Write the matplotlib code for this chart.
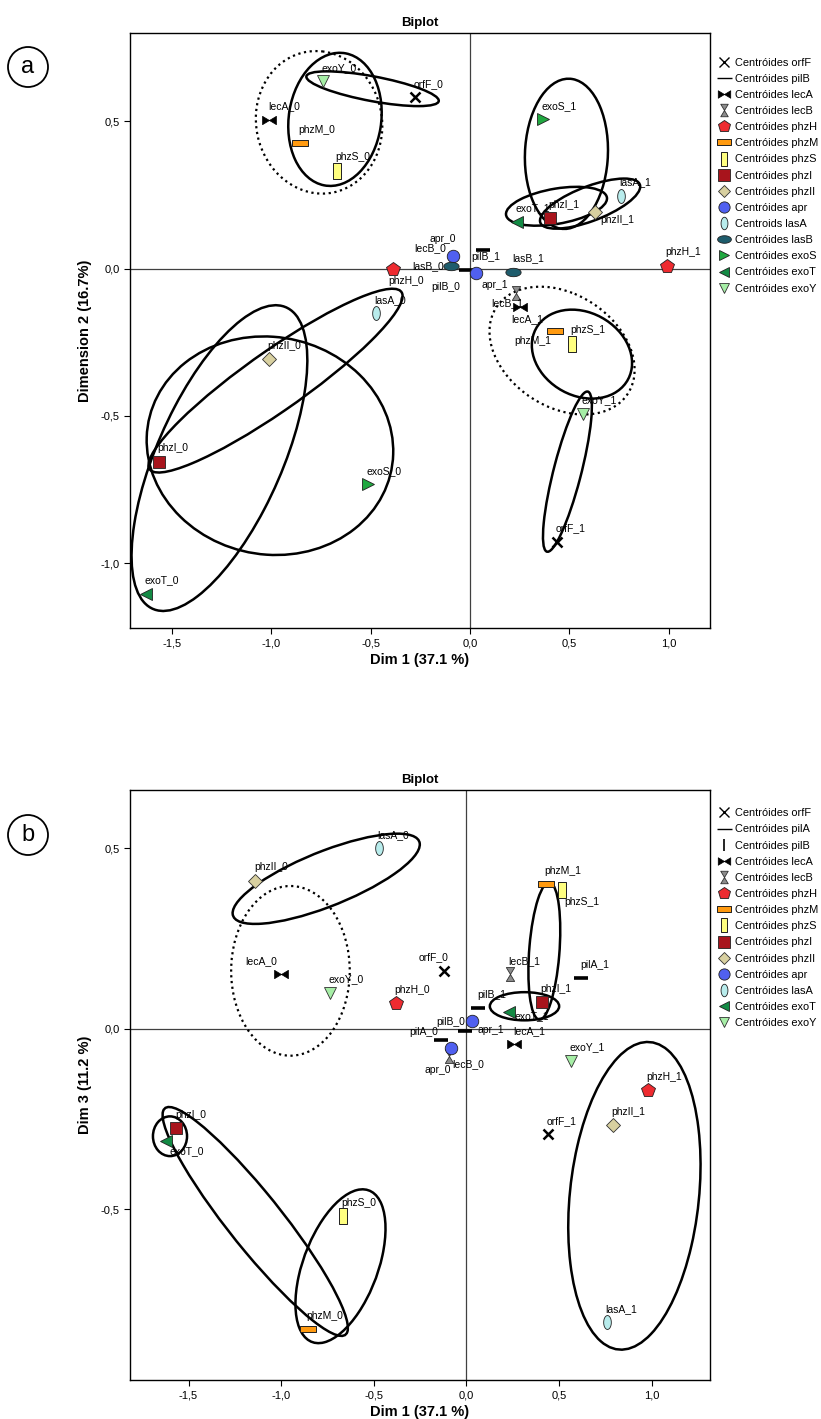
import numpy as np
import matplotlib.pyplot as plt
from matplotlib.path import Path
from matplotlib.patches import Ellipse
from matplotlib.lines import Line2D
from matplotlib.ticker import FuncFormatter

plt.rcParams['font.family'] = ['Liberation Sans', 'DejaVu Sans']

# ---- panel a : Dim 1 x Dim 2 ----
a_names = ['orfF_0', 'orfF_1', 'pilB_0', 'pilB_1', 'lecA_0', 'lecA_1', 'lecB_0', 'lecB_1',
           'phzH_0', 'phzH_1', 'phzM_0', 'phzM_1', 'phzS_0', 'phzS_1', 'phzI_0', 'phzI_1',
           'phzII_0', 'phzII_1', 'apr_0', 'apr_1', 'lasA_0', 'lasA_1', 'lasB_0', 'lasB_1',
           'exoS_0', 'exoS_1', 'exoT_0', 'exoT_1', 'exoY_0', 'exoY_1']
a_dim1 = [-0.277, 0.438, -0.020, 0.064, -1.010, 0.252, -0.090, 0.231,
          -0.389, 0.990, -0.855, 0.428, -0.669, 0.513, -1.566, 0.402,
          -1.010, 0.629, -0.084, 0.029, -0.473, 0.758, -0.097, 0.218,
          -0.512, 0.366, -1.630, 0.235, -0.738, 0.568]
a_dim2 = [0.582, -0.927, -0.004, 0.065, 0.505, -0.129, 0.024, -0.081,
          -0.001, 0.010, 0.427, -0.210, 0.333, -0.255, -0.655, 0.171,
          -0.307, 0.193, 0.043, -0.014, -0.152, 0.247, 0.009, -0.010,
          -0.731, 0.507, -1.104, 0.160, 0.637, -0.492]
a_legend = ['orfF', 'pilB', 'lecA', 'lecB', 'phzH', 'phzM', 'phzS', 'phzI', 'phzII',
            'apr', 'lasA', 'lasB', 'exoS', 'exoT', 'exoY']

# confidence ellipses: centre, spread along each dim, correlation, dotted?
a_ell_cx = [-0.759, -0.679, -0.490, 0.485, 0.435, 0.604, 0.463, 0.563, 0.490, -1.006, -1.260, -0.978]
a_ell_cy = [0.497, 0.507, 0.611, 0.390, 0.212, 0.221, -0.278, -0.290, -0.689, -0.601, -0.643, -0.380]
a_ell_sx = [0.318, 0.235, 0.333, 0.209, 0.254, 0.252, 0.365, 0.252, 0.123, 0.620, 0.442, 0.639]
a_ell_sy = [0.242, 0.226, 0.059, 0.255, 0.066, 0.085, 0.217, 0.151, 0.272, 0.371, 0.519, 0.312]
a_ell_rho = [-0.05, 0.10, -0.69, 0.05, 0.40, 0.68, -0.30, -0.20, 0.81, -0.05, 0.64, 0.92]
a_ell_dot = [True, False, False, False, False, False, True, False, False, False, False, False]

# ---- panel b : Dim 1 x Dim 3 ----
b_names = ['orfF_0', 'orfF_1', 'pilA_0', 'pilA_1', 'pilB_0', 'pilB_1', 'lecA_0', 'lecA_1',
           'lecB_0', 'lecB_1', 'phzH_0', 'phzH_1', 'phzM_0', 'phzM_1', 'phzS_0', 'phzS_1',
           'phzI_0', 'phzI_1', 'phzII_0', 'phzII_1', 'apr_0', 'apr_1', 'lasA_0', 'lasA_1',
           'exoT_0', 'exoT_1', 'exoY_0', 'exoY_1']
b_dim1 = [-0.120, 0.438, -0.138, 0.620, -0.009, 0.063, -1.000, 0.258,
          -0.093, 0.235, -0.380, 0.980, -0.855, 0.428, -0.669, 0.513,
          -1.566, 0.405, -1.140, 0.790, -0.084, 0.031, -0.473, 0.758,
          -1.620, 0.230, -0.735, 0.565]
b_dim3 = [0.160, -0.292, -0.032, 0.140, -0.007, 0.056, 0.150, -0.043,
          -0.077, 0.150, 0.070, -0.171, -0.832, 0.400, -0.520, 0.385,
          -0.275, 0.074, 0.410, -0.267, -0.054, 0.021, 0.500, -0.813,
          -0.311, 0.047, 0.100, -0.089]
b_legend = ['orfF', 'pilA', 'pilB', 'lecA', 'lecB', 'phzH', 'phzM', 'phzS', 'phzI', 'phzII',
            'apr', 'lasA', 'exoT', 'exoY']

b_ell_cx = [-0.757, -0.950, -1.600, -1.140, -0.680, 0.420, 0.313, 0.906]
b_ell_cy = [0.415, 0.160, -0.298, -0.534, -0.658, 0.215, 0.062, -0.463]
b_ell_sx = [0.505, 0.320, 0.092, 0.500, 0.243, 0.086, 0.187, 0.357]
b_ell_sy = [0.125, 0.235, 0.055, 0.317, 0.213, 0.190, 0.039, 0.426]
b_ell_rho = [0.76, 0.00, 0.00, -0.93, 0.49, 0.30, 0.00, 0.20]
b_ell_dot = [False, True, False, False, False, False, False, False]


def _path(verts):
    return Path(np.array(verts + [verts[0]], dtype=float), closed=True)


t = np.linspace(0, 2 * np.pi, 40)
BOWTIE = _path([(-1, -0.6), (-1, 0.6), (0, 0), (1, 0.6), (1, -0.6), (0, 0)])
HOURGLASS = _path([(-0.6, 1), (0.6, 1), (0, 0), (0.6, -1), (-0.6, -1), (0, 0)])
WIDE_RECT = _path([(-1, -0.4), (1, -0.4), (1, 0.4), (-1, 0.4)])
TALL_RECT = _path([(-0.5, -1), (0.5, -1), (0.5, 1), (-0.5, 1)])
TALL_OVAL = Path(np.column_stack([0.55 * np.cos(t), np.sin(t)]))
WIDE_OVAL = Path(np.column_stack([np.cos(t), 0.55 * np.sin(t)]))

# marker, size, face colour, edge colour, edge width
STYLE = {
    'orfF': dict(marker='x', ms=7, mfc='black', mec='black', mew=1.8),
    'pilA': dict(marker='_', ms=10, mfc='black', mec='black', mew=2.6),
    'pilB': dict(marker='_', ms=10, mfc='black', mec='black', mew=2.6),
    'lecA': dict(marker=BOWTIE, ms=10, mfc='black', mec='black', mew=0.5),
    'lecB': dict(marker=HOURGLASS, ms=10, mfc='#8c8c8c', mec='#303030', mew=0.6),
    'phzH': dict(marker='p', ms=10, mfc='#ee2b30', mec='#202020', mew=0.6),
    'phzM': dict(marker=WIDE_RECT, ms=11, mfc='#ff9a10', mec='#202020', mew=0.7),
    'phzS': dict(marker=TALL_RECT, ms=11, mfc='#ffff80', mec='#202020', mew=0.7),
    'phzI': dict(marker='s', ms=9, mfc='#a8141c', mec='#202020', mew=0.6),
    'phzII': dict(marker='D', ms=7, mfc='#d8d0a0', mec='#303030', mew=0.6),
    'apr': dict(marker='o', ms=9, mfc='#5060f0', mec='#202020', mew=0.6),
    'lasA': dict(marker=TALL_OVAL, ms=10, mfc='#b8ecec', mec='#202020', mew=0.6),
    'lasB': dict(marker=WIDE_OVAL, ms=11, mfc='#1e5c6c', mec='#202020', mew=0.6),
    'exoS': dict(marker='>', ms=8, mfc='#20a840', mec='#202020', mew=0.6),
    'exoT': dict(marker='<', ms=8, mfc='#138a44', mec='#202020', mew=0.6),
    'exoY': dict(marker='v', ms=8, mfc='#a6eea6', mec='#303030', mew=0.6),
}

# label placement (offset in points, ha, va); default sits above-right
DEFAULT_LBL = ((-1, 6), 'left', 'bottom')
a_lbl = {
    'apr_0': ((2, 9), 'right', 'bottom'),
    'lecB_0': ((-4, 6), 'right', 'bottom'),
    'lasB_0': ((-5, 0), 'right', 'center'),
    'phzH_0': ((-3, -5), 'left', 'top'),
    'pilB_0': ((-4, -9), 'right', 'top'),
    'apr_1': ((4, -5), 'left', 'top'),
    'lecB_1': ((-6, -4), 'center', 'top'),
    'lecA_1': ((5, -5), 'center', 'top'),
    'pilB_1': ((2, -2), 'center', 'top'),
    'phzII_1': ((4, -2), 'left', 'top'),
    'phzM_1': ((-3, -4), 'right', 'top'),
}
b_lbl = {
    'lecA_0': ((-3, 6), 'right', 'bottom'),
    'orfF_0': ((3, 6), 'right', 'bottom'),
    'pilB_0': ((0, 3), 'right', 'bottom'),
    'apr_1': ((4, -3), 'left', 'top'),
    'pilA_0': ((-2, 2), 'right', 'bottom'),
    'apr_0': ((0, -12), 'right', 'top'),
    'lecB_0': ((2, -2), 'left', 'top'),
    'phzS_1': ((2, -5), 'left', 'top'),
    'exoT_0': ((2, -4), 'left', 'top'),
    'exoT_1': ((4, -3), 'left', 'center'),
}


def comma(v, pos):
    return ('%.1f' % v).replace('.', ',')


def draw_ellipses(ax, cx, cy, sx, sy, rho, dotted):
    for i in range(len(cx)):
        cov = np.array([[sx[i] ** 2, rho[i] * sx[i] * sy[i]],
                        [rho[i] * sx[i] * sy[i], sy[i] ** 2]])
        vals, vecs = np.linalg.eigh(cov)
        ang = np.degrees(np.arctan2(vecs[1, 1], vecs[0, 1]))
        ls = (0, (1, 1.6)) if dotted[i] else '-'
        lw = 1.6 if dotted[i] else 1.8
        ax.add_patch(Ellipse((cx[i], cy[i]), 2 * np.sqrt(vals[1]), 2 * np.sqrt(vals[0]),
                             angle=ang, fill=False, ec='black', lw=lw, ls=ls, zorder=2))


def biplot(ax, names, xs, ys, lbl, legend_vars, legend_y, ell, xlim, ylim, yticks, ylabel):
    ax.axhline(0, color='#404040', lw=0.9, zorder=1)
    ax.axvline(0, color='#404040', lw=0.9, zorder=1)
    draw_ellipses(ax, *ell)
    for name, x, y in zip(names, xs, ys):
        var = name.split('_')[0]
        ax.plot([x], [y], ls='none', zorder=3, **STYLE[var])
        off, ha, va = lbl.get(name, DEFAULT_LBL)
        ax.annotate(name, (x, y), xytext=off, textcoords='offset points',
                    ha=ha, va=va, fontsize=7.5, zorder=4)
    ax.set_xlim(*xlim)
    ax.set_ylim(*ylim)
    ax.set_xticks([-1.5, -1.0, -0.5, 0.0, 0.5, 1.0])
    ax.set_yticks(yticks)
    ax.xaxis.set_major_formatter(FuncFormatter(comma))
    ax.yaxis.set_major_formatter(FuncFormatter(comma))
    ax.tick_params(labelsize=8, length=4, width=0.8, direction='out')
    for s in ax.spines.values():
        s.set_linewidth(1.0)
    ax.set_title('Biplot', fontsize=9.5, fontweight='bold', pad=5)
    ax.set_xlabel('Dim 1 (37.1 %)', fontsize=10.5, fontweight='bold', labelpad=3)
    ax.set_ylabel(ylabel, fontsize=10.5, fontweight='bold', labelpad=6)

    handles = []
    for var in legend_vars:
        st = STYLE[var]
        if var == 'pilB' and 'pilA' in legend_vars:
            st = dict(st, marker='|', ms=10, mew=1.2)
        elif var in ('pilA', 'pilB'):
            st = dict(st, ms=12, mew=1.0)
        elif var == 'orfF':
            st = dict(st, mew=1.0, ms=8)
        handles.append(Line2D([], [], ls='none', **st))
    texts = [('Centroids ' if v == 'lasA' and len(legend_vars) == 15 else 'Centróides ') + v
             for v in legend_vars]
    fig.legend(handles, texts, loc='upper left', bbox_to_anchor=(0.8695, legend_y),
               frameon=False, fontsize=7.9, handlelength=1.0, handletextpad=0.5,
               labelspacing=0.56, borderaxespad=0, markerscale=0.9)


fig = plt.figure(figsize=(8.21, 14.19), dpi=100)
ax_a = fig.add_axes([0.1583, 0.5574, 0.7065, 0.4193])
ax_b = fig.add_axes([0.1583, 0.0275, 0.7065, 0.4158])

biplot(ax_a, a_names, a_dim1, a_dim2, a_lbl, a_legend, 0.9625,
       (a_ell_cx, a_ell_cy, a_ell_sx, a_ell_sy, a_ell_rho, a_ell_dot),
       (-1.71, 1.207), (-1.22, 0.80), [-1.0, -0.5, 0.0, 0.5], 'Dimension 2 (16.7%)')
biplot(ax_b, b_names, b_dim1, b_dim3, b_lbl, b_legend, 0.4335,
       (b_ell_cx, b_ell_cy, b_ell_sx, b_ell_sy, b_ell_rho, b_ell_dot),
       (-1.816, 1.314), (-0.973, 0.661), [-0.5, 0.0, 0.5], 'Dim 3 (11.2 %)')

# panel letters in round badges
W, H = 821.0, 1419.0
for letter, yc in (('a', 67), ('b', 835)):
    fig.patches.append(Ellipse((28 / W, 1 - yc / H), 40 / W, 40 / H, transform=fig.transFigure,
                               fill=False, ec='black', lw=1.3))
    fig.text(28 / W, 1 - yc / H, letter, ha='center', va='center', fontsize=17)

fig.savefig('out.png', dpi=100)
